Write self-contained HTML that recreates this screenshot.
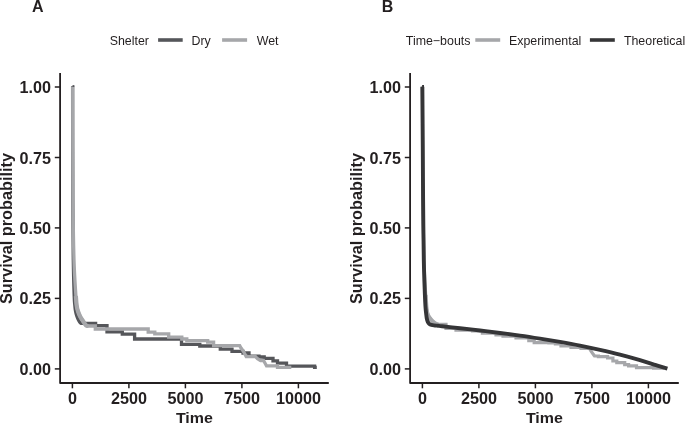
<!DOCTYPE html>
<html><head><meta charset="utf-8"><style>
html,body{margin:0;padding:0;background:#fff;width:685px;height:424px;overflow:hidden}
svg{display:block;will-change:transform}
text{font-family:"Liberation Sans", sans-serif;fill:#231f20}
</style></head><body>
<svg width="685" height="424" viewBox="0 0 685 424">
<path d="M60.1,73.8 V383 H327.9" fill="none" stroke="#231f20" stroke-width="1.8" stroke-linejoin="round" stroke-linecap="square" transform="translate(0,0)"/>
<line x1="54.8" y1="87.0" x2="60" y2="87.0" stroke="#231f20" stroke-width="1.5"/>
<text transform="translate(51.1,93.0) scale(1.025,1)" text-anchor="end" font-weight="bold" font-size="15.8">1.00</text>
<line x1="54.8" y1="157.5" x2="60" y2="157.5" stroke="#231f20" stroke-width="1.5"/>
<text transform="translate(51.1,163.5) scale(1.025,1)" text-anchor="end" font-weight="bold" font-size="15.8">0.75</text>
<line x1="54.8" y1="227.9" x2="60" y2="227.9" stroke="#231f20" stroke-width="1.5"/>
<text transform="translate(51.1,233.9) scale(1.025,1)" text-anchor="end" font-weight="bold" font-size="15.8">0.50</text>
<line x1="54.8" y1="298.4" x2="60" y2="298.4" stroke="#231f20" stroke-width="1.5"/>
<text transform="translate(51.1,304.4) scale(1.025,1)" text-anchor="end" font-weight="bold" font-size="15.8">0.25</text>
<line x1="54.8" y1="368.9" x2="60" y2="368.9" stroke="#231f20" stroke-width="1.5"/>
<text transform="translate(51.1,374.9) scale(1.025,1)" text-anchor="end" font-weight="bold" font-size="15.8">0.00</text>
<line x1="72.4" y1="383.8" x2="72.4" y2="388.3" stroke="#231f20" stroke-width="1.5"/>
<text transform="translate(72.4,404.3) scale(1.025,1)" text-anchor="middle" font-weight="bold" font-size="15.8">0</text>
<line x1="128.9" y1="383.8" x2="128.9" y2="388.3" stroke="#231f20" stroke-width="1.5"/>
<text transform="translate(128.9,404.3) scale(1.025,1)" text-anchor="middle" font-weight="bold" font-size="15.8">2500</text>
<line x1="185.4" y1="383.8" x2="185.4" y2="388.3" stroke="#231f20" stroke-width="1.5"/>
<text transform="translate(185.4,404.3) scale(1.025,1)" text-anchor="middle" font-weight="bold" font-size="15.8">5000</text>
<line x1="241.9" y1="383.8" x2="241.9" y2="388.3" stroke="#231f20" stroke-width="1.5"/>
<text transform="translate(241.9,404.3) scale(1.025,1)" text-anchor="middle" font-weight="bold" font-size="15.8">7500</text>
<line x1="298.4" y1="383.8" x2="298.4" y2="388.3" stroke="#231f20" stroke-width="1.5"/>
<text transform="translate(298.4,404.3) scale(1.025,1)" text-anchor="middle" font-weight="bold" font-size="15.8">10000</text>
<text transform="translate(194.4,423.0) scale(1.06,1)" text-anchor="middle" font-weight="bold" font-size="15.1">Time</text>
<text transform="translate(11.8,228.5) rotate(-90) scale(1.031,1)" text-anchor="middle" font-weight="bold" font-size="15.8">Survival probability</text>
<path d="M72.60,86.30 C72.63,105.25 72.68,171.05 72.80,200.00 C72.92,228.95 73.07,244.00 73.30,260.00 C73.53,276.00 73.95,288.50 74.20,296.00 C74.45,303.50 74.58,302.50 74.80,305.00 C75.02,307.50 75.17,309.17 75.50,311.00 C75.83,312.83 76.27,314.42 76.80,316.00 C77.33,317.58 78.05,319.32 78.70,320.50 C79.35,321.68 80.07,322.63 80.70,323.10 C81.33,323.57 81.95,323.27 82.50,323.30 C83.05,323.33 83.75,323.30 84.00,323.30 H95.6 V325.7 H107 V331.9 H122.3 V334.1 H134.6 V339.0 H181.5 V344.3 H199.8 V346 H220.3 V349.2 H232 V351.3 H243 V353 H249 V356.2 H259 V357 H264.2 V358.4 H273 V360.8 H277.5 V363.2 H286.5 V366.1 H314.6 V367.3 H316.8" fill="none" stroke="#55565a" stroke-width="3.3" stroke-linejoin="miter"/>
<path d="M72.70,86.80 C72.75,105.67 72.78,171.13 73.00,200.00 C73.22,228.87 73.52,244.00 74.00,260.00 C74.48,276.00 75.47,288.50 75.90,296.00 C76.33,303.50 76.27,302.50 76.60,305.00 C76.93,307.50 77.28,309.03 77.90,311.00 C78.52,312.97 79.45,315.13 80.30,316.80 C81.15,318.47 82.15,319.70 83.00,321.00 C83.85,322.30 84.73,323.78 85.40,324.60 C86.07,325.42 86.48,325.67 87.00,325.90 C87.52,326.13 88.25,325.98 88.50,326.00 H95.3 V329 H148.2 V332.1 H154.8 V333.8 H168.7 V337.2 H181.8 V339 H186.8 V340.6 H207.7 V342.2 H213.6 V345.6 H239.7 L241,348 L242.8,350.5 L244.3,353 L246.2,356.6 H255.5 L257.5,358.8 L260.5,360.5 H263.5 L265.5,364 L266.5,365.8 H277.5 V367.3 H291.3" fill="none" stroke="#a6a7aa" stroke-width="3.3" stroke-linejoin="miter"/>
<path d="M75.90,296.00 C76.02,297.50 76.27,302.50 76.60,305.00 C76.93,307.50 77.28,309.03 77.90,311.00 C78.52,312.97 79.45,315.13 80.30,316.80 C81.15,318.47 82.15,319.70 83.00,321.00 C83.85,322.30 84.73,323.78 85.40,324.60 C86.07,325.42 86.48,325.67 87.00,325.90 C87.52,326.13 88.25,325.98 88.50,326.00" fill="none" stroke="#a6a7aa" stroke-width="4.2"/>
<rect x="72.5" y="85.1" width="1.9" height="1.9" fill="#55565a"/>
<text x="109.7" y="44.7" font-size="12.4" fill="#231f20">Shelter</text>
<line x1="158.1" y1="40" x2="182.7" y2="40" stroke="#55565a" stroke-width="3.6"/>
<text x="191.5" y="44.7" font-size="12.4" fill="#231f20">Dry</text>
<line x1="222.1" y1="40" x2="247.1" y2="40" stroke="#a6a7aa" stroke-width="3.6"/>
<text x="256.7" y="44.7" font-size="12.4" fill="#231f20">Wet</text>
<path d="M410.1,73.8 V383 H677.9" fill="none" stroke="#231f20" stroke-width="1.8" stroke-linejoin="round" stroke-linecap="square" transform="translate(0,0)"/>
<line x1="404.8" y1="87.0" x2="410" y2="87.0" stroke="#231f20" stroke-width="1.5"/>
<text transform="translate(401.1,93.0) scale(1.025,1)" text-anchor="end" font-weight="bold" font-size="15.8">1.00</text>
<line x1="404.8" y1="157.5" x2="410" y2="157.5" stroke="#231f20" stroke-width="1.5"/>
<text transform="translate(401.1,163.5) scale(1.025,1)" text-anchor="end" font-weight="bold" font-size="15.8">0.75</text>
<line x1="404.8" y1="227.9" x2="410" y2="227.9" stroke="#231f20" stroke-width="1.5"/>
<text transform="translate(401.1,233.9) scale(1.025,1)" text-anchor="end" font-weight="bold" font-size="15.8">0.50</text>
<line x1="404.8" y1="298.4" x2="410" y2="298.4" stroke="#231f20" stroke-width="1.5"/>
<text transform="translate(401.1,304.4) scale(1.025,1)" text-anchor="end" font-weight="bold" font-size="15.8">0.25</text>
<line x1="404.8" y1="368.9" x2="410" y2="368.9" stroke="#231f20" stroke-width="1.5"/>
<text transform="translate(401.1,374.9) scale(1.025,1)" text-anchor="end" font-weight="bold" font-size="15.8">0.00</text>
<line x1="422.4" y1="383.8" x2="422.4" y2="388.3" stroke="#231f20" stroke-width="1.5"/>
<text transform="translate(422.4,404.3) scale(1.025,1)" text-anchor="middle" font-weight="bold" font-size="15.8">0</text>
<line x1="478.9" y1="383.8" x2="478.9" y2="388.3" stroke="#231f20" stroke-width="1.5"/>
<text transform="translate(478.9,404.3) scale(1.025,1)" text-anchor="middle" font-weight="bold" font-size="15.8">2500</text>
<line x1="535.4" y1="383.8" x2="535.4" y2="388.3" stroke="#231f20" stroke-width="1.5"/>
<text transform="translate(535.4,404.3) scale(1.025,1)" text-anchor="middle" font-weight="bold" font-size="15.8">5000</text>
<line x1="591.9" y1="383.8" x2="591.9" y2="388.3" stroke="#231f20" stroke-width="1.5"/>
<text transform="translate(591.9,404.3) scale(1.025,1)" text-anchor="middle" font-weight="bold" font-size="15.8">7500</text>
<line x1="648.4" y1="383.8" x2="648.4" y2="388.3" stroke="#231f20" stroke-width="1.5"/>
<text transform="translate(648.4,404.3) scale(1.025,1)" text-anchor="middle" font-weight="bold" font-size="15.8">10000</text>
<text transform="translate(544.4,423.0) scale(1.06,1)" text-anchor="middle" font-weight="bold" font-size="15.1">Time</text>
<text transform="translate(361.8,228.5) rotate(-90) scale(1.031,1)" text-anchor="middle" font-weight="bold" font-size="15.8">Survival probability</text>
<path d="M422.60,86.60 C422.60,97.17 422.55,131.10 422.60,150.00 C422.65,168.90 422.67,181.67 422.90,200.00 C423.13,218.33 423.53,244.17 424.00,260.00 C424.47,275.83 425.27,286.83 425.70,295.00 C426.13,303.17 426.22,305.67 426.60,309.00 C426.98,312.33 427.27,313.23 428.00,315.00 C428.73,316.77 429.92,318.28 431.00,319.60 C432.08,320.92 433.50,322.13 434.50,322.90 C435.50,323.67 436.33,323.95 437.00,324.20 C437.67,324.45 438.25,324.37 438.50,324.40 H446 V328.3 H456 V330.2 H472.5 V331 H482.4 V333.2 H496 V335 H503 V336.2 H516 V338 H528.8 V340.7 H534.2 V342.6 H548.9 V343 H555.4 V344 H561 V346 H571 V347.5 H581 V348.4 H589.5 L591.2,351.5 L593.8,355 L594.5,356 H598.4 V356.7 H607.6 V358 H612.9 V361 H616.8 V362.6 H624.7 V364.6 H628.6 V365.9 H636.5 V367.7 H653.6 V368.2 H664" fill="none" stroke="#a6a7aa" stroke-width="3.2"/>
<path d="M425.70,295.00 C425.85,297.33 426.22,305.67 426.60,309.00 C426.98,312.33 427.27,313.23 428.00,315.00 C428.73,316.77 429.92,318.28 431.00,319.60 C432.08,320.92 433.50,322.13 434.50,322.90 C435.50,323.67 436.33,323.95 437.00,324.20 C437.67,324.45 438.25,324.37 438.50,324.40" fill="none" stroke="#a6a7aa" stroke-width="4.0"/>
<path d="M422.30,86.80 C422.38,97.33 422.67,131.13 422.80,150.00 C422.93,168.87 422.93,181.67 423.10,200.00 C423.27,218.33 423.50,244.17 423.80,260.00 C424.10,275.83 424.62,287.17 424.90,295.00 C425.18,302.83 425.28,303.83 425.50,307.00 C425.72,310.17 425.98,312.08 426.20,314.00 C426.42,315.92 426.53,317.20 426.80,318.50 C427.07,319.80 427.37,320.90 427.80,321.80 C428.23,322.70 428.78,323.38 429.40,323.90 C430.02,324.42 430.73,324.65 431.50,324.90 C432.27,325.15 432.92,325.25 434.00,325.40 C435.08,325.55 436.67,325.67 438.00,325.80 C439.33,325.93 440.00,325.98 442.00,326.20 C444.00,326.42 447.00,326.77 450.00,327.10 C453.00,327.43 455.00,327.63 460.00,328.20 C465.00,328.77 473.33,329.70 480.00,330.50 C486.67,331.30 493.33,332.15 500.00,333.00 C506.67,333.85 513.33,334.67 520.00,335.60 C526.67,336.53 533.33,337.55 540.00,338.60 C546.67,339.65 553.33,340.73 560.00,341.90 C566.67,343.07 573.33,344.27 580.00,345.60 C586.67,346.93 593.33,348.38 600.00,349.90 C606.67,351.42 613.33,352.98 620.00,354.70 C626.67,356.42 634.00,358.45 640.00,360.20 C646.00,361.95 651.43,363.78 656.00,365.20 C660.57,366.62 665.50,368.12 667.40,368.70" fill="none" stroke="#353537" stroke-width="3.9"/>
<rect x="422.1" y="85.0" width="1.9" height="2" fill="#353537"/>
<text x="405.8" y="44.7" font-size="12.4" fill="#231f20">Time−bouts</text>
<line x1="475.3" y1="40" x2="500.2" y2="40" stroke="#a6a7aa" stroke-width="3.6"/>
<text x="509" y="44.7" font-size="12.4" fill="#231f20">Experimental</text>
<line x1="589.9" y1="40" x2="614.8" y2="40" stroke="#353537" stroke-width="3.6"/>
<text x="623.9" y="44.7" font-size="12.4" fill="#231f20">Theoretical</text>
<text x="31.9" y="11.8" font-weight="bold" font-size="16">A</text>
<text x="381.8" y="11.8" font-weight="bold" font-size="16">B</text>
</svg>
</body></html>
